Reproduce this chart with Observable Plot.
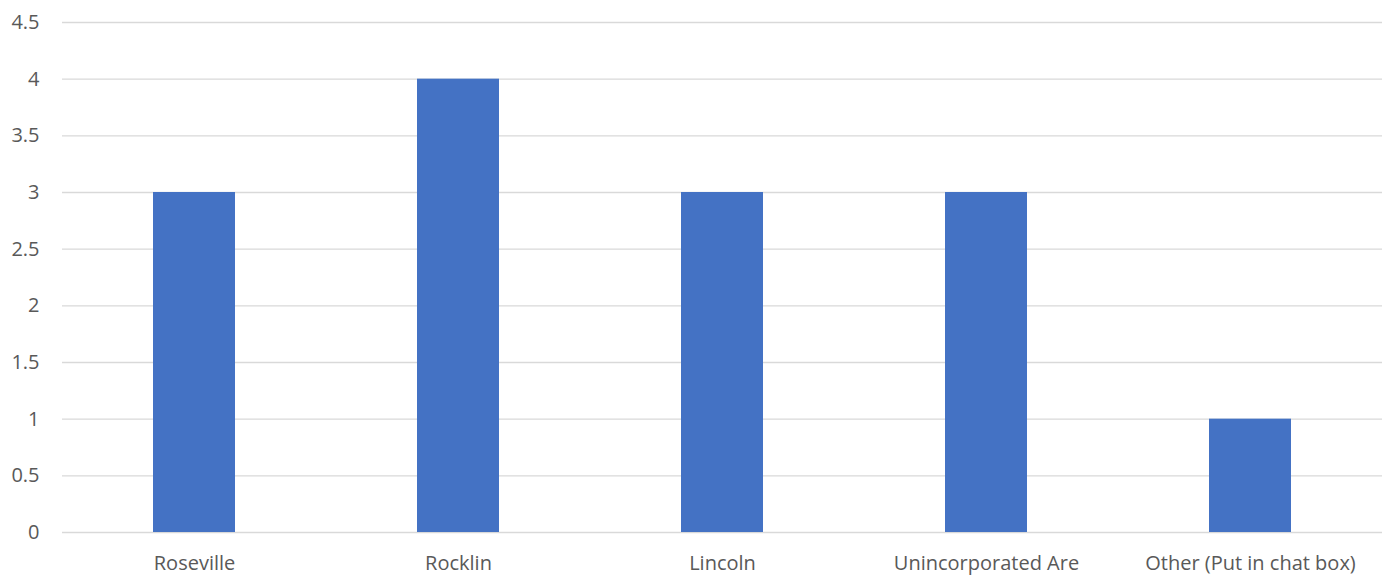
<!DOCTYPE html>
<html>
<head>
<meta charset="utf-8">
<script src="https://cdn.jsdelivr.net/npm/d3@7"></script>
<script src="https://cdn.jsdelivr.net/npm/@observablehq/plot@0.6"></script>
<style>
  html, body { margin: 0; padding: 0; background: #fff; }
  #chart svg { display: block; }
  #chart svg text { font-family: 'Open Sans', sans-serif; font-size: 20px; }
</style>
</head>
<body>
<div id="chart"></div>
<script>
// Responses per area
const areas = ["Roseville", "Rocklin", "Lincoln", "Unincorporated Are", "Other (Put in chat box)"];
const counts = [3, 4, 3, 3, 1];
const yTicks = [0, 0.5, 1, 1.5, 2, 2.5, 3, 3.5, 4, 4.5];

const data = areas.map((area, i) => ({area, count: counts[i]}));

const chart = Plot.plot({
  width: 1389,
  height: 576,
  marginLeft: 62,
  marginRight: 7,
  marginTop: 22,
  marginBottom: 44,
  style: {fontFamily: "'Open Sans', sans-serif", color: "#595959", background: "#fff"},
  x: {domain: areas, paddingInner: 0.69, paddingOuter: 0.345, label: null},
  y: {domain: [0, 4.5], label: null},
  marks: [
    Plot.ruleY(yTicks, {stroke: "#d9d9d9", strokeWidth: 1.3}),
    Plot.barY(data, {x: "area", y: "count", fill: "#4472C4"}),
    Plot.axisX({tickSize: 0, tickPadding: 23, fill: "#595959"}),
    Plot.axisY({ticks: yTicks, tickSize: 0, tickPadding: 23, fill: "#595959", tickFormat: d => String(d)})
  ]
});
document.getElementById("chart").appendChild(chart);
</script>
</body>
</html>
